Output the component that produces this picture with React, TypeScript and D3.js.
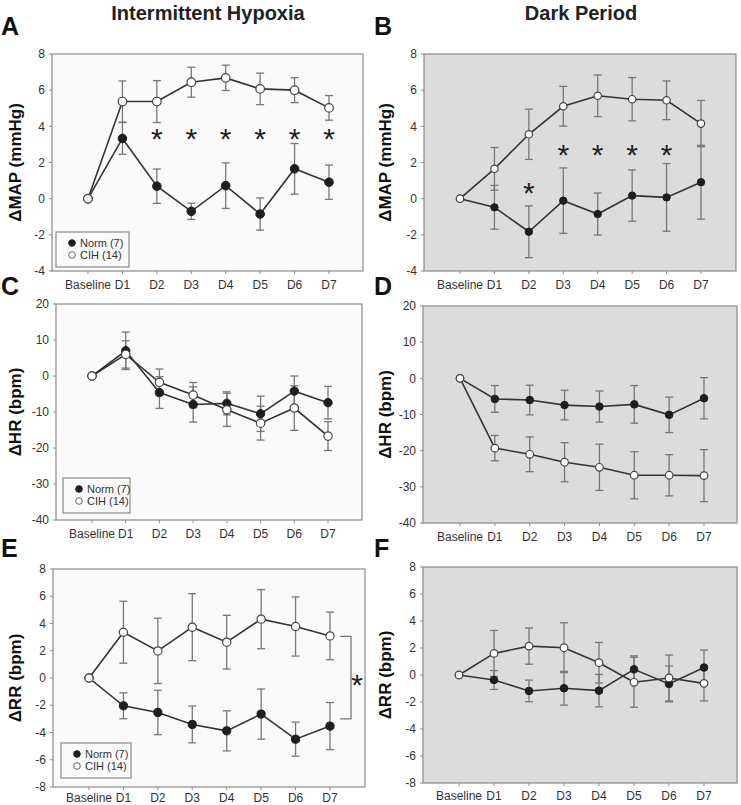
import React from 'react';
import * as d3 from 'd3';

// ---------- data ----------
const days = ['Baseline', 'D1', 'D2', 'D3', 'D4', 'D5', 'D6', 'D7'];

const mapIhNorm = [0, 3.33, 0.69, -0.7, 0.72, -0.85, 1.65, 0.91];
const mapIhNormErr = [0, 0.88, 0.95, 0.45, 1.26, 0.89, 1.4, 0.95];
const mapIhCih = [0, 5.37, 5.37, 6.44, 6.68, 6.07, 6.0, 5.02];
const mapIhCihErr = [0, 1.14, 1.16, 0.83, 0.7, 0.87, 0.69, 0.68];

const mapDarkNorm = [0, -0.48, -1.83, -0.11, -0.85, 0.17, 0.07, 0.91];
const mapDarkNormErr = [0, 1.21, 1.43, 1.81, 1.16, 1.42, 1.87, 2.04];
const mapDarkCih = [0, 1.65, 3.56, 5.11, 5.69, 5.5, 5.44, 4.15];
const mapDarkCihErr = [0, 1.18, 1.39, 1.1, 1.15, 1.2, 1.07, 1.28];

const hrIhNorm = [0, 7.0, -4.6, -7.9, -7.6, -10.5, -4.2, -7.4];
const hrIhNormErr = [0, 5.2, 4.4, 4.9, 3.2, 4.9, 4.2, 4.5];
const hrIhCih = [0, 6.0, -1.75, -5.3, -9.4, -13.1, -8.9, -16.7];
const hrIhCihErr = [0, 3.8, 3.7, 3.5, 4.6, 4.7, 6.2, 4.0];

const hrDarkNorm = [0, -5.7, -6.0, -7.4, -7.8, -7.2, -10.1, -5.5];
const hrDarkNormErr = [0, 3.7, 4.1, 4.1, 4.3, 5.2, 4.9, 5.7];
const hrDarkCih = [0, -19.3, -21.0, -23.2, -24.6, -26.8, -26.8, -26.9];
const hrDarkCihErr = [0, 3.5, 4.8, 5.4, 6.4, 6.5, 5.7, 7.2];

const rrIhNorm = [0, -2.04, -2.53, -3.41, -3.88, -2.65, -4.49, -3.53];
const rrIhNormErr = [0, 0.95, 1.63, 1.35, 1.47, 1.84, 1.25, 1.73];
const rrIhCih = [0, 3.36, 1.99, 3.73, 2.63, 4.32, 3.78, 3.09];
const rrIhCihErr = [0, 2.27, 2.4, 2.46, 1.97, 2.17, 2.17, 1.75];

const rrDarkNorm = [0, -0.37, -1.18, -0.98, -1.16, 0.42, -0.66, 0.55];
const rrDarkNormErr = [0, 0.7, 0.8, 1.25, 1.2, 1.0, 1.33, 1.3];
const rrDarkCih = [0, 1.6, 2.14, 2.02, 0.91, -0.54, -0.22, -0.62];
const rrDarkCihErr = [0, 1.7, 1.34, 1.85, 1.5, 1.85, 1.7, 1.3];

const mapTicks = [-4, -2, 0, 2, 4, 6, 8];
const hrTicks = [-40, -30, -20, -10, 0, 10, 20];
const rrTicks = [-8, -6, -4, -2, 0, 2, 4, 6, 8];

// significance marks: [day, y value]
const sigIhMap: [string, number][] = [['D2', 3.7], ['D3', 3.7], ['D4', 3.7], ['D5', 3.7], ['D6', 3.7], ['D7', 3.7]];
const sigDarkMap: [string, number][] = [['D2', 0.72], ['D3', 2.85], ['D4', 2.85], ['D5', 2.85], ['D6', 2.85]];
const rrIhBracket = [3.05, -3.0];

const legendLabels = ['Norm (7)', 'CIH (14)'];
const columnTitles = ['Intermittent Hypoxia', 'Dark Period'];

// ---------- layout ----------
const FONT = "'Liberation Sans', Arial, Helvetica, sans-serif";

type PanelCfg = {
  letter: string;
  yLabel: string;
  norm: number[]; normErr: number[]; cih: number[]; cihErr: number[];
  ticks: number[];
  x0: number; x1: number; y0: number; y1: number;
  bx: number; ex: number;
  shaded: boolean;
  r: number;
  labOff: number;
  legend?: { x: number; y: number; w: number };
  sig?: [string, number][];
  bracket?: number[];
  letterPos: [number, number];
  labelX: number;
};

const panels: PanelCfg[] = [
  { letter: 'A', yLabel: '\u0394MAP (mmHg)', norm: mapIhNorm, normErr: mapIhNormErr, cih: mapIhCih, cihErr: mapIhCihErr,
    ticks: mapTicks, x0: 52, x1: 363, y0: 54, y1: 271, bx: 88, ex: 329, shaded: false, r: 4.3, labOff: 18,
    legend: { x: 56, y: 232, w: 73 }, sig: sigIhMap, letterPos: [1, 35], labelX: 15 },
  { letter: 'B', yLabel: '\u0394MAP (mmHg)', norm: mapDarkNorm, normErr: mapDarkNormErr, cih: mapDarkCih, cihErr: mapDarkCihErr,
    ticks: mapTicks, x0: 424, x1: 736, y0: 54, y1: 271, bx: 460, ex: 701, shaded: true, r: 3.7, labOff: 18,
    sig: sigDarkMap, letterPos: [374, 35], labelX: 385 },
  { letter: 'C', yLabel: '\u0394HR (bpm)', norm: hrIhNorm, normErr: hrIhNormErr, cih: hrIhCih, cihErr: hrIhCihErr,
    ticks: hrTicks, x0: 56, x1: 362, y0: 304, y1: 520, bx: 92, ex: 328, shaded: false, r: 4.2, labOff: 18,
    legend: { x: 63, y: 478, w: 67 }, letterPos: [1, 295], labelX: 15 },
  { letter: 'D', yLabel: '\u0394HR (bpm)', norm: hrDarkNorm, normErr: hrDarkNormErr, cih: hrDarkCih, cihErr: hrDarkCihErr,
    ticks: hrTicks, x0: 423, x1: 737, y0: 306, y1: 523, bx: 460, ex: 704, shaded: true, r: 3.8, labOff: 18,
    letterPos: [374, 295], labelX: 385 },
  { letter: 'E', yLabel: '\u0394RR (bpm)', norm: rrIhNorm, normErr: rrIhNormErr, cih: rrIhCih, cihErr: rrIhCihErr,
    ticks: rrTicks, x0: 53, x1: 365, y0: 569, y1: 787, bx: 89, ex: 330, shaded: false, r: 4.1, labOff: 15,
    legend: { x: 61, y: 743, w: 70 }, bracket: rrIhBracket, letterPos: [1, 557], labelX: 15 },
  { letter: 'F', yLabel: '\u0394RR (bpm)', norm: rrDarkNorm, normErr: rrDarkNormErr, cih: rrDarkCih, cihErr: rrDarkCihErr,
    ticks: rrTicks, x0: 423, x1: 737, y0: 567, y1: 783, bx: 459, ex: 704, shaded: true, r: 3.8, labOff: 17,
    letterPos: [374, 557], labelX: 385 },
];

const LINE = '#333';
const ERR = '#777';
const FRAME = '#8a8a8a';
const TXT = '#333';

function Panel({ p }: { p: PanelCfg }) {
  const x = d3.scalePoint<string>().domain(days).range([p.bx, p.ex]);
  const dom = d3.extent(p.ticks) as [number, number];
  const y = d3.scaleLinear().domain(dom).range([p.y1, p.y0]);
  const line = d3.line<number>().x((_, i) => x(days[i])!).y(d => y(d));
  const cap = 4;

  const errBars = (vals: number[], errs: number[], key: string) =>
    vals.map((v, i) => {
      if (!errs[i]) return null;
      const cx = x(days[i])!;
      const yt = y(v + errs[i]);
      const yb = y(v - errs[i]);
      return (
        <g key={key + i} stroke={ERR} strokeWidth={1.3}>
          <line x1={cx} x2={cx} y1={yt} y2={yb} />
          <line x1={cx - cap} x2={cx + cap} y1={yt} y2={yt} />
          <line x1={cx - cap} x2={cx + cap} y1={yb} y2={yb} />
        </g>
      );
    });

  const midY = (p.y0 + p.y1) / 2;
  const astFs = 30;

  return (
    <g>
      <text x={p.letterPos[0]} y={p.letterPos[1]} fontFamily={FONT} fontWeight="bold" fontSize={25} fill="#111">
        {p.letter}
      </text>
      <rect x={p.x0} y={p.y0} width={p.x1 - p.x0} height={p.y1 - p.y0}
        fill={p.shaded ? '#dcdcdd' : '#fafafa'} stroke={FRAME} strokeWidth={1.2} />
      {p.ticks.map(t => (
        <g key={'yt' + t}>
          <line x1={p.x0 - 3} x2={p.x0} y1={y(t)} y2={y(t)} stroke={FRAME} strokeWidth={1} />
          <text x={p.x0 - 7} y={y(t)} dy="0.35em" textAnchor="end" fontFamily={FONT} fontSize={12} fill={TXT}>
            {t}
          </text>
        </g>
      ))}
      {days.map(d => (
        <g key={'xt' + d}>
          <line x1={x(d)!} x2={x(d)!} y1={p.y1} y2={p.y1 + 3} stroke={FRAME} strokeWidth={1} />
          <text x={x(d)!} y={p.y1 + p.labOff} textAnchor="middle" fontFamily={FONT} fontSize={12} fill={TXT}>
            {d}
          </text>
        </g>
      ))}
      <text transform={`translate(${p.labelX},${midY}) rotate(-90)`} textAnchor="middle" dy="0.35em"
        fontFamily={FONT} fontWeight="bold" fontSize={17} fill="#111">
        {p.yLabel}
      </text>
      <path d={line(p.cih)!} fill="none" stroke={LINE} strokeWidth={1.6} />
      <path d={line(p.norm)!} fill="none" stroke={LINE} strokeWidth={1.6} />
      {errBars(p.cih, p.cihErr, 'ce')}
      {errBars(p.norm, p.normErr, 'ne')}
      {p.norm.map((v, i) => (
        <circle key={'n' + i} cx={x(days[i])!} cy={y(v)} r={p.r} fill="#1e1e1e" stroke="#1e1e1e" strokeWidth={1} />
      ))}
      {p.cih.map((v, i) => (
        <circle key={'c' + i} cx={x(days[i])!} cy={y(v)} r={p.r} fill="#fff" stroke="#444" strokeWidth={1.2} />
      ))}
      {p.sig && p.sig.map(([d, v]) => (
        <text key={'s' + d} x={x(d)!} y={y(v) + astFs * 0.58} textAnchor="middle" fontFamily={FONT}
          fontSize={astFs} fill="#222">*</text>
      ))}
      {p.bracket && (() => {
        const bx = x('D7')! + 21;
        const yt = y(p.bracket[0]);
        const yb = y(p.bracket[1]);
        return (
          <g>
            <path d={`M${bx - 11},${yt}H${bx}V${yb}H${bx - 11}`} fill="none" stroke={ERR} strokeWidth={1.3} />
            <text x={bx + 6} y={(yt + yb) / 2 + astFs * 0.58} textAnchor="middle" fontFamily={FONT}
              fontSize={astFs} fill="#222">*</text>
          </g>
        );
      })()}
      {p.legend && (
        <g>
          <rect x={p.legend.x} y={p.legend.y} width={p.legend.w} height={35} fill="#fafafa" stroke={FRAME} strokeWidth={1.2} />
          {legendLabels.map((lab, i) => {
            const cy = p.legend!.y + 11 + i * 12;
            return (
              <g key={lab}>
                <circle cx={p.legend!.x + 16} cy={cy} r={3.3} fill={i === 0 ? '#1e1e1e' : '#fff'}
                  stroke={i === 0 ? '#1e1e1e' : '#666'} strokeWidth={1} />
                <text x={p.legend!.x + 24} y={cy} dy="0.35em" fontFamily={FONT} fontSize={11} fill={TXT}>{lab}</text>
              </g>
            );
          })}
        </g>
      )}
    </g>
  );
}

export default function App() {
  return (
    <svg width={741} height={805} style={{ position: 'absolute', left: 0, top: 0, background: '#fff' }}>
      <rect width={741} height={805} fill="#fff" />
      <text x={208} y={20} textAnchor="middle" fontFamily={FONT} fontWeight="bold" fontSize={20} fill="#222">
        {columnTitles[0]}
      </text>
      <text x={581} y={20} textAnchor="middle" fontFamily={FONT} fontWeight="bold" fontSize={20} fill="#222">
        {columnTitles[1]}
      </text>
      {panels.map(p => <Panel key={p.letter} p={p} />)}
    </svg>
  );
}
